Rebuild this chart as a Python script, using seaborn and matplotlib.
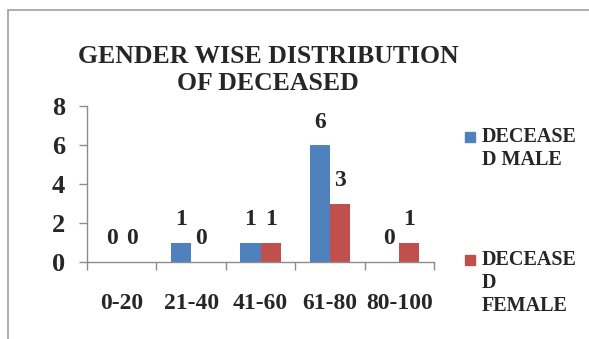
import pandas as pd
import matplotlib.pyplot as plt
import seaborn as sns
from matplotlib.patches import Rectangle

sns.set_theme(style="white")
plt.rcParams['font.family'] = ['Liberation Serif', 'DejaVu Serif']
plt.rcParams['font.weight'] = 'bold'

# data
age_groups = ['0-20', '21-40', '41-60', '61-80', '80-100']
male = [0, 1, 1, 6, 0]
female = [0, 0, 1, 3, 1]
series_names = ['DECEASED MALE', 'DECEASED FEMALE']
legend_labels = ['DECEASE\nD MALE', 'DECEASE\nD\nFEMALE']
colors = ['#4F81BD', '#C0504D']

df = pd.DataFrame({
    'Idade': age_groups * 2,
    'Total': male + female,
    'Grupo': [series_names[0]] * len(age_groups) + [series_names[1]] * len(age_groups),
})

fig = plt.figure(figsize=(5.89, 3.39), dpi=100)
ax = fig.add_axes([87 / 589, 1 - 262 / 339, (434 - 87) / 589, (262 - 106) / 339])

sns.barplot(data=df, x='Idade', y='Total', hue='Grupo', palette=colors,
            width=0.58, dodge=True, ax=ax, legend=False, saturation=1, linewidth=0)

for cont in ax.containers:
    ax.bar_label(cont, padding=9, fontsize=17, fontweight='bold')

ax.set_ylim(0, 8)
ax.set_yticks([0, 2, 4, 6, 8])
ax.set_xlim(-0.5, len(age_groups) - 0.5)
ax.set_xlabel('')
ax.set_ylabel('')

gray = '#8c8c8c'
for s in ['top', 'right']:
    ax.spines[s].set_visible(False)
for s in ['left', 'bottom']:
    ax.spines[s].set_color(gray)
    ax.spines[s].set_linewidth(1)

ax.tick_params(axis='y', left=True, length=6, width=1, color=gray, labelsize=19, pad=10)
ax.tick_params(axis='x', which='major', length=0, labelsize=17, pad=22)
ax.set_xticks([i - 0.5 for i in range(len(age_groups) + 1)], minor=True)
ax.tick_params(axis='x', which='minor', bottom=True, length=6, width=1, color=gray)
for lab in ax.get_xticklabels() + ax.get_yticklabels():
    lab.set_fontweight('bold')

# titulo em duas linhas
fig.text(268 / 589, 1 - 70 / 339, 'GENDER WISE DISTRIBUTION\nOF DECEASED', ha='center', va='center',
         fontsize=18.5, fontweight='bold', linespacing=1.2)

# legenda manual (texto quebrado como no original)
for y_px, lab, col in [(137, legend_labels[0], colors[0]), (260, legend_labels[1], colors[1])]:
    fig.patches.append(Rectangle((465 / 589, 1 - (y_px + 5) / 339), 10 / 589, 10 / 339,
                                 transform=fig.transFigure, color=col, figure=fig))
    fig.text(482 / 589, 1 - (y_px - 10) / 339, lab, ha='left', va='top',
             fontsize=14.5, fontweight='bold', linespacing=1.2)

# moldura
fig.patches.append(Rectangle((8 / 589, -0.1), 1.2, 1 - 10 / 339 + 0.1, transform=fig.transFigure,
                             fill=False, edgecolor='#a0a0a0', linewidth=1.2, figure=fig))

plt.savefig('out.png', dpi=100)
plt.close()
